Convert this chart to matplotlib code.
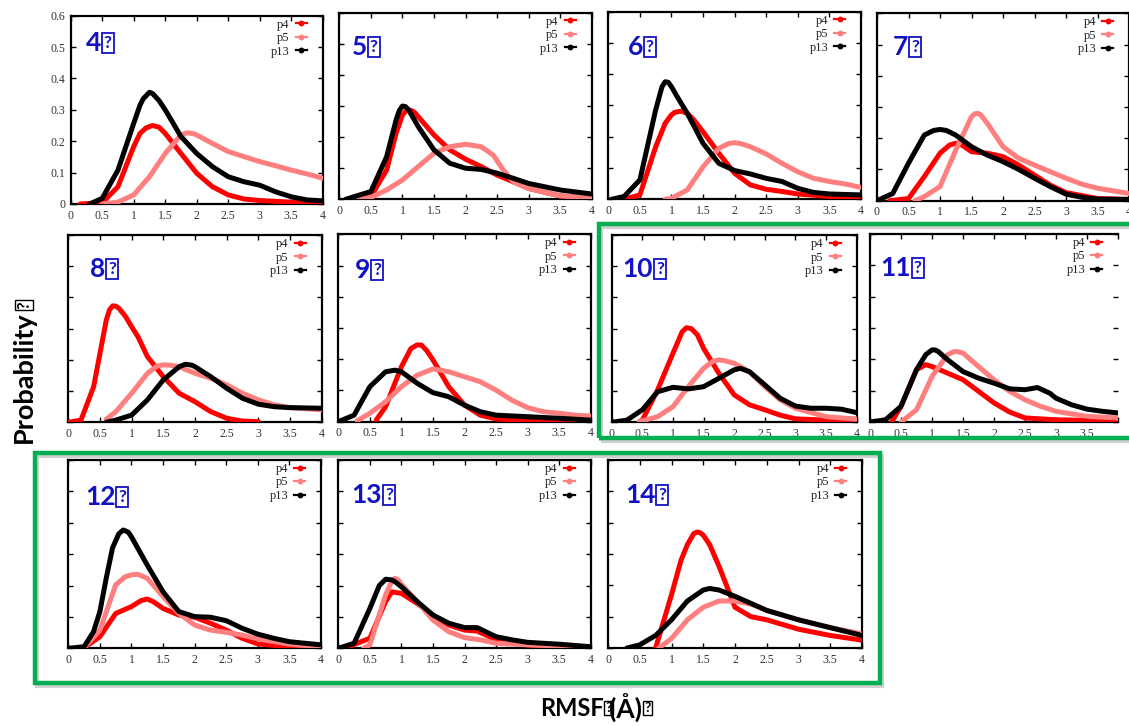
import matplotlib
matplotlib.use("Agg")
import matplotlib.pyplot as plt
from matplotlib.lines import Line2D
from matplotlib.patches import Rectangle

# ---------------- data ----------------
PANELS = ["4", "5", "6", "7", "8", "9", "10", "11", "12", "13", "14"]
SERIES = ["p4", "p5", "p13"]
XTICKS = [0, 0.5, 1, 1.5, 2, 2.5, 3, 3.5, 4]
XTICK_LABELS = ["0", "0.5", "1", "1.5", "2", "2.5", "3", "3.5", "4"]
YTICKS = [0, 0.1, 0.2, 0.3, 0.4, 0.5, 0.6]
YTICK_LABELS = ["0", "0.1", "0.2", "0.3", "0.4", "0.5", "0.6"]

# panel 4
P4_P4_X = [0.15, 0.5, 0.75, 1.0, 1.1, 1.2, 1.3, 1.4, 1.5, 1.75, 2.0, 2.25, 2.5, 2.75, 3.0, 3.5, 4.0]
P4_P4_Y = [0.0, 0.004, 0.055, 0.183, 0.225, 0.243, 0.25, 0.245, 0.225, 0.161, 0.098, 0.055, 0.029, 0.016, 0.011, 0.006, 0.006]
P4_P5_X = [0.5, 0.75, 1.0, 1.25, 1.5, 1.75, 1.85, 1.95, 2.0, 2.25, 2.5, 2.75, 3.0, 3.25, 3.5, 3.75, 4.0]
P4_P5_Y = [0.0, 0.006, 0.029, 0.087, 0.161, 0.22, 0.227, 0.224, 0.22, 0.193, 0.167, 0.151, 0.135, 0.122, 0.108, 0.096, 0.082]
P4_P13_X = [0.3, 0.5, 0.75, 1.0, 1.1, 1.15, 1.25, 1.3, 1.4, 1.5, 1.75, 2.0, 2.25, 2.5, 2.75, 3.0, 3.25, 3.5, 3.75, 4.0]
P4_P13_Y = [0.0, 0.018, 0.108, 0.257, 0.315, 0.335, 0.356, 0.352, 0.33, 0.30, 0.215, 0.161, 0.119, 0.087, 0.071, 0.06, 0.039, 0.023, 0.013, 0.01]

# panel 5
P5_P4_X = [0.25, 0.5, 0.75, 0.9, 1.0, 1.05, 1.1, 1.15, 1.2, 1.25, 1.5, 1.75, 2.0, 2.25, 2.5, 2.75, 3.0, 3.5, 4.0]
P5_P4_Y = [0.0, 0.009, 0.094, 0.212, 0.271, 0.283, 0.287, 0.285, 0.278, 0.266, 0.207, 0.159, 0.129, 0.105, 0.078, 0.057, 0.035, 0.011, 0.003]
P5_P5_X = [0.3, 0.5, 0.75, 1.0, 1.25, 1.5, 1.75, 2.0, 2.25, 2.44, 2.6, 2.76, 3.0, 3.5, 4.0]
P5_P5_Y = [0.0, 0.006, 0.03, 0.062, 0.105, 0.148, 0.169, 0.177, 0.169, 0.142, 0.094, 0.056, 0.035, 0.011, 0.005]
P5_P13_X = [0.1, 0.5, 0.75, 0.9, 0.95, 1.0, 1.05, 1.1, 1.25, 1.5, 1.75, 2.0, 2.25, 2.5, 2.75, 3.0, 3.5, 4.0]
P5_P13_Y = [0.0, 0.025, 0.137, 0.255, 0.285, 0.30, 0.298, 0.287, 0.234, 0.159, 0.116, 0.10, 0.096, 0.084, 0.068, 0.051, 0.03, 0.017]

# panel 6
P6_P4_X = [0.25, 0.5, 0.75, 0.9, 1.0, 1.05, 1.15, 1.25, 1.35, 1.5, 1.75, 2.0, 2.25, 2.5, 2.75, 3.0, 3.5, 4.0]
P6_P4_Y = [0.0, 0.014, 0.168, 0.243, 0.27, 0.278, 0.282, 0.275, 0.255, 0.216, 0.147, 0.083, 0.046, 0.032, 0.025, 0.017, 0.009, 0.006]
P6_P5_X = [0.9, 1.0, 1.25, 1.5, 1.75, 1.9, 2.0, 2.1, 2.25, 2.5, 2.75, 3.0, 3.25, 3.5, 3.75, 4.0]
P6_P5_Y = [0.0, 0.003, 0.03, 0.104, 0.163, 0.178, 0.181, 0.178, 0.168, 0.145, 0.115, 0.088, 0.067, 0.057, 0.049, 0.038]
P6_P13_X = [0.05, 0.25, 0.5, 0.75, 0.85, 0.9, 0.95, 1.0, 1.1, 1.25, 1.5, 1.75, 2.0, 2.25, 2.5, 2.75, 3.0, 3.25, 3.5, 4.0]
P6_P13_Y = [0.0, 0.009, 0.062, 0.286, 0.36, 0.376, 0.374, 0.36, 0.325, 0.275, 0.179, 0.115, 0.092, 0.081, 0.067, 0.057, 0.035, 0.022, 0.017, 0.014]

# panel 7
P7_P4_X = [0.2, 0.5, 0.75, 1.0, 1.15, 1.25, 1.35, 1.5, 1.75, 2.0, 2.25, 2.5, 2.75, 3.0, 3.5, 4.0]
P7_P4_Y = [0.0, 0.007, 0.077, 0.152, 0.178, 0.184, 0.178, 0.157, 0.152, 0.141, 0.114, 0.082, 0.05, 0.026, 0.007, 0.004]
P7_P5_X = [0.6, 0.75, 1.0, 1.25, 1.5, 1.55, 1.6, 1.65, 1.75, 2.0, 2.25, 2.5, 2.75, 3.0, 3.25, 3.5, 4.0]
P7_P5_Y = [0.0, 0.013, 0.045, 0.162, 0.269, 0.278, 0.28, 0.274, 0.248, 0.173, 0.136, 0.114, 0.093, 0.072, 0.053, 0.04, 0.023]
P7_P13_X = [0.0, 0.25, 0.5, 0.75, 0.9, 1.0, 1.1, 1.25, 1.5, 1.75, 2.0, 2.25, 2.5, 2.75, 3.0, 3.25, 3.5, 4.0]
P7_P13_Y = [0.0, 0.023, 0.12, 0.21, 0.225, 0.228, 0.225, 0.21, 0.173, 0.146, 0.125, 0.10, 0.072, 0.045, 0.021, 0.011, 0.005, 0.004]

# panel 8
P8_P4_X = [0.0, 0.2, 0.4, 0.5, 0.6, 0.65, 0.7, 0.75, 0.8, 0.9, 1.0, 1.1, 1.25, 1.5, 1.75, 2.0, 2.25, 2.5, 2.75, 3.0]
P8_P4_Y = [0.0, 0.007, 0.114, 0.221, 0.328, 0.36, 0.373, 0.372, 0.365, 0.34, 0.306, 0.274, 0.21, 0.146, 0.093, 0.066, 0.034, 0.013, 0.004, 0.002]
P8_P5_X = [0.6, 0.75, 1.0, 1.25, 1.4, 1.5, 1.6, 1.75, 2.0, 2.25, 2.5, 2.75, 3.0, 3.25, 3.5, 4.0]
P8_P5_Y = [0.01, 0.034, 0.093, 0.157, 0.18, 0.184, 0.183, 0.178, 0.157, 0.141, 0.12, 0.093, 0.072, 0.056, 0.047, 0.04]
P8_P13_X = [0.6, 0.75, 1.0, 1.25, 1.5, 1.75, 1.85, 1.95, 2.0, 2.25, 2.5, 2.75, 3.0, 3.25, 3.5, 4.0]
P8_P13_Y = [0.0, 0.007, 0.023, 0.072, 0.136, 0.178, 0.186, 0.183, 0.178, 0.146, 0.109, 0.077, 0.058, 0.05, 0.047, 0.045]

# panel 9
P9_P4_X = [0.6, 0.75, 1.0, 1.15, 1.25, 1.32, 1.4, 1.5, 1.75, 2.0, 2.25, 2.5, 3.0, 3.5, 4.0]
P9_P4_Y = [0.005, 0.048, 0.176, 0.234, 0.246, 0.245, 0.228, 0.198, 0.112, 0.053, 0.021, 0.009, 0.002, 0.001, 0.001]
P9_P5_X = [0.3, 0.5, 0.75, 1.0, 1.25, 1.5, 1.75, 2.0, 2.25, 2.5, 2.75, 3.0, 3.25, 3.5, 3.75, 4.0]
P9_P5_Y = [0.003, 0.027, 0.064, 0.112, 0.149, 0.169, 0.16, 0.144, 0.128, 0.101, 0.069, 0.045, 0.032, 0.027, 0.021, 0.018]
P9_P13_X = [0.0, 0.25, 0.5, 0.75, 0.9, 1.0, 1.25, 1.5, 1.75, 2.0, 2.25, 2.5, 3.0, 3.5, 4.0]
P9_P13_Y = [0.0, 0.021, 0.112, 0.16, 0.165, 0.16, 0.123, 0.093, 0.08, 0.053, 0.032, 0.021, 0.016, 0.011, 0.005]

# panel 10
P10_P4_X = [0.45, 0.5, 0.75, 1.0, 1.15, 1.22, 1.3, 1.4, 1.5, 1.75, 2.0, 2.25, 2.5, 2.75, 3.0, 3.5, 4.0]
P10_P4_Y = [0.002, 0.007, 0.104, 0.221, 0.29, 0.303, 0.3, 0.28, 0.237, 0.157, 0.088, 0.056, 0.04, 0.023, 0.011, 0.007, 0.01]
P10_P5_X = [0.45, 0.75, 1.0, 1.25, 1.5, 1.65, 1.75, 1.85, 2.0, 2.25, 2.5, 2.75, 3.0, 3.5, 4.0]
P10_P5_Y = [0.002, 0.018, 0.05, 0.114, 0.173, 0.195, 0.2, 0.197, 0.189, 0.162, 0.114, 0.072, 0.045, 0.018, 0.01]
P10_P13_X = [0.0, 0.25, 0.5, 0.75, 1.0, 1.25, 1.5, 1.75, 2.0, 2.1, 2.25, 2.5, 2.75, 3.0, 3.25, 3.5, 3.75, 4.0]
P10_P13_Y = [0.0, 0.007, 0.04, 0.098, 0.112, 0.107, 0.114, 0.141, 0.168, 0.173, 0.162, 0.12, 0.077, 0.052, 0.045, 0.045, 0.042, 0.031]

# panel 11
P11_P4_X = [0.35, 0.5, 0.75, 0.9, 1.0, 1.25, 1.5, 1.75, 2.0, 2.25, 2.5, 3.0, 3.5, 4.0]
P11_P4_Y = [0.0, 0.05, 0.167, 0.183, 0.177, 0.156, 0.135, 0.098, 0.061, 0.032, 0.013, 0.007, 0.005, 0.004]
P11_P5_X = [0.5, 0.75, 1.0, 1.25, 1.35, 1.4, 1.5, 1.75, 2.0, 2.25, 2.5, 2.75, 3.0, 3.5, 4.0]
P11_P5_Y = [0.0, 0.039, 0.145, 0.215, 0.224, 0.225, 0.22, 0.177, 0.135, 0.098, 0.071, 0.05, 0.034, 0.018, 0.013]
P11_P13_X = [0.0, 0.25, 0.5, 0.75, 0.9, 1.0, 1.05, 1.1, 1.25, 1.5, 1.75, 2.0, 2.25, 2.5, 2.7, 2.9, 3.0, 3.25, 3.5, 3.75, 4.0]
P11_P13_Y = [0.0, 0.007, 0.05, 0.167, 0.215, 0.23, 0.23, 0.225, 0.199, 0.161, 0.14, 0.124, 0.106, 0.103, 0.11, 0.092, 0.076, 0.055, 0.041, 0.034, 0.029]

# panel 12
P12_P4_X = [0.25, 0.5, 0.75, 1.0, 1.15, 1.25, 1.35, 1.5, 1.75, 2.0, 2.25, 2.5, 2.75, 3.0, 3.5, 4.0]
P12_P4_Y = [0.002, 0.037, 0.111, 0.133, 0.152, 0.157, 0.148, 0.127, 0.106, 0.099, 0.08, 0.058, 0.032, 0.014, 0.005, 0.003]
P12_P5_X = [0.25, 0.5, 0.75, 0.9, 1.0, 1.1, 1.25, 1.5, 1.75, 2.0, 2.25, 2.5, 2.75, 3.0, 3.5, 4.0]
P12_P5_Y = [0.002, 0.058, 0.202, 0.228, 0.234, 0.236, 0.223, 0.165, 0.111, 0.074, 0.058, 0.051, 0.042, 0.03, 0.013, 0.005]
P12_P13_X = [0.0, 0.25, 0.4, 0.5, 0.6, 0.7, 0.8, 0.87, 0.95, 1.0, 1.25, 1.5, 1.75, 2.0, 2.25, 2.5, 2.75, 3.0, 3.25, 3.5, 4.0]
P12_P13_Y = [0.0, 0.005, 0.053, 0.117, 0.223, 0.32, 0.365, 0.377, 0.37, 0.355, 0.265, 0.18, 0.117, 0.101, 0.099, 0.088, 0.064, 0.045, 0.032, 0.021, 0.011]

# panel 13
P13_P4_X = [0.1, 0.5, 0.75, 0.85, 1.0, 1.25, 1.5, 1.75, 2.0, 2.2, 2.5, 3.0, 3.5, 4.0]
P13_P4_Y = [0.0, 0.032, 0.149, 0.18, 0.175, 0.143, 0.106, 0.074, 0.058, 0.055, 0.027, 0.011, 0.005, 0.002]
P13_P5_X = [0.4, 0.5, 0.75, 0.85, 0.9, 0.95, 1.0, 1.25, 1.5, 1.75, 2.0, 2.25, 2.5, 3.0, 3.5, 4.0]
P13_P5_Y = [0.0, 0.011, 0.17, 0.215, 0.223, 0.218, 0.204, 0.149, 0.09, 0.053, 0.034, 0.027, 0.016, 0.011, 0.007, 0.003]
P13_P13_X = [0.0, 0.25, 0.5, 0.65, 0.75, 0.85, 0.9, 1.0, 1.25, 1.5, 1.75, 2.0, 2.2, 2.5, 2.75, 3.0, 3.5, 4.0]
P13_P13_Y = [0.0, 0.016, 0.127, 0.2, 0.22, 0.218, 0.212, 0.196, 0.149, 0.106, 0.08, 0.066, 0.066, 0.037, 0.027, 0.019, 0.013, 0.005]

# panel 14
P14_P4_X = [0.75, 1.0, 1.15, 1.25, 1.35, 1.4, 1.45, 1.5, 1.6, 1.75, 2.0, 2.25, 2.5, 3.0, 3.5, 4.0]
P14_P4_Y = [0.0, 0.17, 0.28, 0.33, 0.365, 0.37, 0.368, 0.36, 0.33, 0.26, 0.13, 0.1, 0.09, 0.06, 0.04, 0.025]
P14_P5_X = [0.8, 1.0, 1.25, 1.5, 1.75, 2.0, 2.25, 2.5, 3.0, 3.5, 4.0]
P14_P5_Y = [0.0, 0.03, 0.09, 0.13, 0.15, 0.15, 0.14, 0.12, 0.09, 0.065, 0.045]
P14_P13_X = [0.3, 0.5, 0.75, 1.0, 1.25, 1.5, 1.6, 1.75, 2.0, 2.5, 3.0, 3.5, 4.0]
P14_P13_Y = [0.0, 0.01, 0.04, 0.09, 0.15, 0.185, 0.19, 0.185, 0.165, 0.12, 0.09, 0.065, 0.04]

CURVES = {
    "4": [(P4_P4_X, P4_P4_Y), (P4_P5_X, P4_P5_Y), (P4_P13_X, P4_P13_Y)],
    "5": [(P5_P4_X, P5_P4_Y), (P5_P5_X, P5_P5_Y), (P5_P13_X, P5_P13_Y)],
    "6": [(P6_P4_X, P6_P4_Y), (P6_P5_X, P6_P5_Y), (P6_P13_X, P6_P13_Y)],
    "7": [(P7_P4_X, P7_P4_Y), (P7_P5_X, P7_P5_Y), (P7_P13_X, P7_P13_Y)],
    "8": [(P8_P4_X, P8_P4_Y), (P8_P5_X, P8_P5_Y), (P8_P13_X, P8_P13_Y)],
    "9": [(P9_P4_X, P9_P4_Y), (P9_P5_X, P9_P5_Y), (P9_P13_X, P9_P13_Y)],
    "10": [(P10_P4_X, P10_P4_Y), (P10_P5_X, P10_P5_Y), (P10_P13_X, P10_P13_Y)],
    "11": [(P11_P4_X, P11_P4_Y), (P11_P5_X, P11_P5_Y), (P11_P13_X, P11_P13_Y)],
    "12": [(P12_P4_X, P12_P4_Y), (P12_P5_X, P12_P5_Y), (P12_P13_X, P12_P13_Y)],
    "13": [(P13_P4_X, P13_P4_Y), (P13_P5_X, P13_P5_Y), (P13_P13_X, P13_P13_Y)],
    "14": [(P14_P4_X, P14_P4_Y), (P14_P5_X, P14_P5_Y), (P14_P13_X, P14_P13_Y)],
}

# ---------------- layout / style ----------------
W, H = 1129, 726
COLORS = ["#FF0000", "#FF7F7F", "#000000"]
BLUE = "#1212C4"
GREEN = "#00B050"

# axes rectangles in pixels: left, top, width, height
RECTS = {
    "4": (70.7, 15.7, 252, 188.3),
    "5": (339.3, 12.7, 252.4, 186.6),
    "6": (608.3, 11.7, 252.7, 187.6),
    "7": (877, 13.3, 252, 187.4),
    "8": (68.3, 235, 253.4, 187.3),
    "9": (338.3, 234.3, 252.4, 187.4),
    "10": (611.7, 235, 245, 187.3),
    "11": (870, 234, 248, 188),
    "12": (68.3, 460, 252.7, 188.3),
    "13": (338.3, 460, 252.4, 188.3),
    "14": (608, 460, 254, 188),
}
LABEL_POS = {
    "4": (0.06, 0.855), "5": (0.05, 0.815), "6": (0.077, 0.813), "7": (0.064, 0.82),
    "8": (0.086, 0.82), "9": (0.066, 0.81), "10": (0.045, 0.82), "11": (0.043, 0.82),
    "12": (0.066, 0.805), "13": (0.053, 0.814), "14": (0.067, 0.814),
}
# panel 11 is cropped on its right side in the source image
CROPPED_RIGHT = {"11"}

fig = plt.figure(figsize=(W / 100, H / 100), dpi=100)
fig.patch.set_facecolor("white")

handles = [Line2D([], [], color=c, lw=1.6, marker="o", ms=3.2) for c in COLORS]

axes = []
for name in PANELS:
    l, t, w, h = RECTS[name]
    ax = fig.add_axes([l / W, 1 - (t + h) / H, w / W, h / H])
    axes.append(ax)
    for (xs, ys), c in zip(CURVES[name], COLORS):
        ax.plot(xs, ys, color=c, lw=3.6, solid_capstyle="round", solid_joinstyle="round", zorder=3)
    ax.set_xlim(0, 4)
    ax.set_ylim(0, 0.6)
    ax.set_xticks(XTICKS)
    labels = list(XTICK_LABELS)
    if name in CROPPED_RIGHT:
        labels[-1] = ""
        ax.spines["right"].set_visible(False)
    ax.set_xticklabels(labels, family="Liberation Serif", fontsize=8.5, color="#333333")
    ax.set_yticks(YTICKS)
    if name == "4":
        ax.set_yticklabels(YTICK_LABELS, family="Liberation Serif", fontsize=8.5, color="#333333")
    else:
        ax.set_yticklabels([])
    ax.tick_params(direction="in", length=3.5, width=1.0, top=True, right=True, pad=4)
    for key, sp in ax.spines.items():
        sp.set_linewidth(1.6)
    leg = ax.legend(handles, SERIES, loc="upper right",
                    bbox_to_anchor=(1 - 16 / w, 1 - 3 / h), borderaxespad=0, borderpad=0,
                    frameon=False, markerfirst=False, handlelength=0.85, handletextpad=0.5,
                    labelspacing=0.12, numpoints=1,
                    prop={"family": "Liberation Serif", "size": 9})
    for txt in leg.get_texts():
        txt.set_color("#222222")
    lx, ly = LABEL_POS[name]
    tn = ax.text(lx, ly, name, transform=ax.transAxes, fontsize=19, fontweight="bold",
                 color=BLUE, family="Lato", ha="left", va="center", zorder=5)
    ax.annotate("?", xy=(1, 0.5), xycoords=tn, xytext=(2.0, 0), textcoords="offset points",
                ha="left", va="center", fontsize=12.5, fontweight="bold", color=BLUE,
                family="Lato", annotation_clip=False, zorder=5,
                bbox=dict(boxstyle="square,pad=0.12", fc="white", ec=BLUE, lw=1.3))

# green highlight boxes (with faint shadow)
for (x0, y0, x1, y1) in [(599, 224, 1140, 438), (35, 453, 880, 683)]:
    fig.patches.append(Rectangle(((x0 + 2) / W, 1 - (y1 + 3) / H), (x1 - x0) / W, (y1 - y0) / H,
                                 transform=fig.transFigure, fill=False, ec="#D0D0D0", lw=3, zorder=0))
    fig.patches.append(Rectangle((x0 / W, 1 - y1 / H), (x1 - x0) / W, (y1 - y0) / H,
                                 transform=fig.transFigure, fill=False, ec=GREEN, lw=3.2, zorder=10))

# axis titles
ax0 = axes[0]
ylab = fig.text(24 / W, 1 - 443 / H, "Probability", rotation=90, ha="center", va="bottom",
                fontsize=19.5, fontweight="bold", family="Lato", color="black")
ax0.annotate("?", xy=(0.5, 1), xycoords=ylab, xytext=(0, 2), textcoords="offset points",
             ha="center", va="bottom", rotation=90, fontsize=12, fontweight="bold",
             family="Lato", color="black", annotation_clip=False,
             bbox=dict(boxstyle="square,pad=0.08", fc="white", ec="black", lw=1.0))

xl1 = fig.text(540 / W, 1 - 708 / H, "RMSF", ha="left", va="center",
               fontsize=17, fontweight="bold", family="Lato", color="black")
xl2 = ax0.annotate("?", xy=(1, 0.5), xycoords=xl1, xytext=(1.0, 0), textcoords="offset points",
                   ha="left", va="center", fontsize=10, fontweight="bold", family="Lato",
                   color="black", annotation_clip=False,
                   bbox=dict(boxstyle="square,pad=0.08", fc="white", ec="black", lw=1.0))
xl3 = ax0.annotate("(Å)", xy=(1, 0.5), xycoords=xl2, xytext=(-1.5, 0), textcoords="offset points",
                   ha="left", va="center", fontsize=19, fontweight="bold", family="Lato",
                   color="black", annotation_clip=False)
ax0.annotate("?", xy=(1, 0.5), xycoords=xl3, xytext=(1.5, 0), textcoords="offset points",
             ha="left", va="center", fontsize=10, fontweight="bold", family="Lato",
             color="black", annotation_clip=False,
             bbox=dict(boxstyle="square,pad=0.08", fc="white", ec="black", lw=1.0))

fig.savefig("out.png", dpi=100, facecolor="white")
